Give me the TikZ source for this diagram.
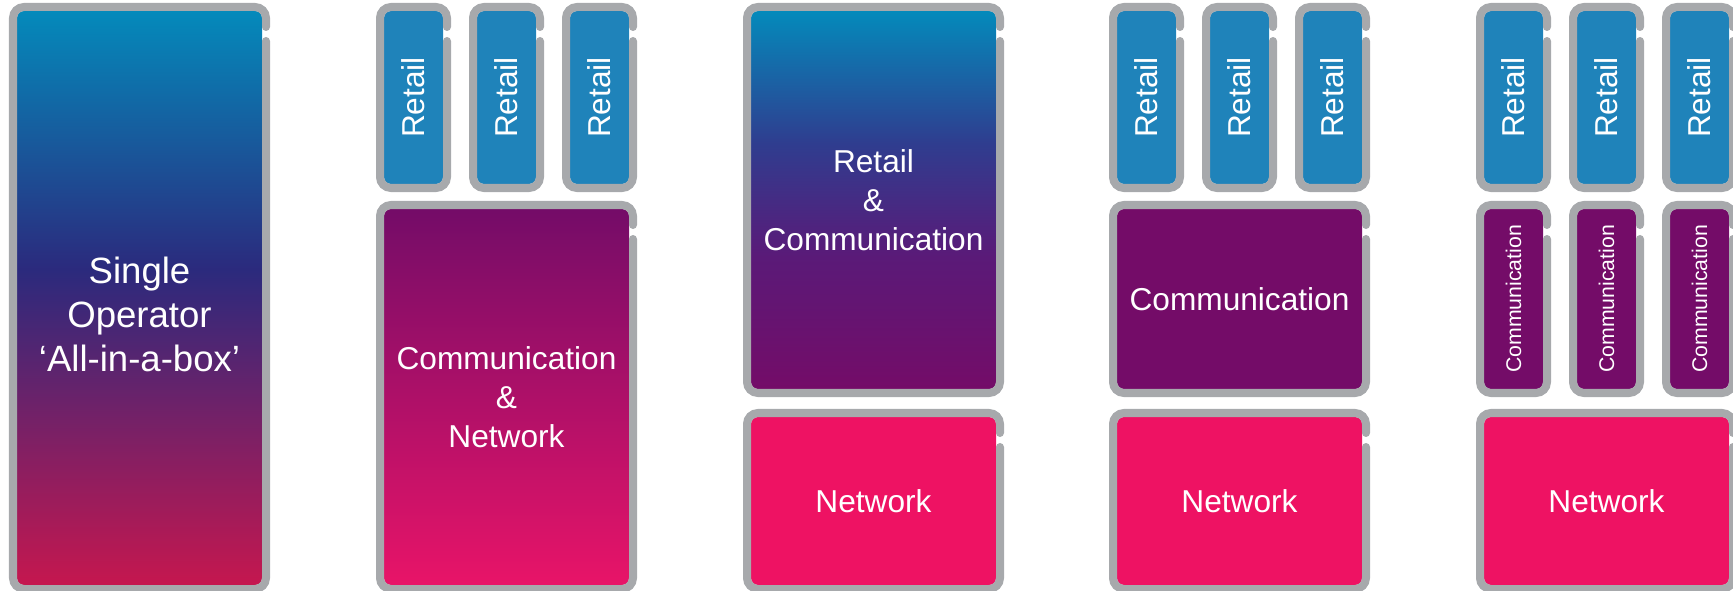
\documentclass[tikz,border=0pt]{standalone}
\usepackage{fontspec}
\setmainfont{Liberation Sans}
\usetikzlibrary{calc}

\definecolor{rimgray}{HTML}{A7A9AC}
\definecolor{retailblue}{HTML}{1F83BA}
\definecolor{commpurple}{HTML}{740C68}
\definecolor{netpink}{HTML}{EE1263}
\definecolor{topteal}{HTML}{048ABB}
\definecolor{midindigo}{HTML}{2B2A7D}
\definecolor{lowcrimson}{HTML}{C5174F}
\definecolor{lowpink}{HTML}{E81468}
\definecolor{rcindigo}{HTML}{2F3D8F}
\definecolor{rcviolet}{HTML}{5A1A78}

% gradients, visible part runs from 25bp (bottom) to 75bp (top)
\pgfdeclareverticalshading{allinone}{100bp}{color(0bp)=(lowcrimson); color(25bp)=(lowcrimson); color(52.5bp)=(midindigo); color(75bp)=(topteal); color(100bp)=(topteal)}
\pgfdeclareverticalshading{commnet}{100bp}{color(0bp)=(lowpink); color(25bp)=(lowpink); color(75bp)=(commpurple); color(100bp)=(commpurple)}
\pgfdeclareverticalshading{retailcomm}{100bp}{color(0bp)=(commpurple); color(25bp)=(commpurple); color(42.5bp)=(rcviolet); color(57.5bp)=(rcindigo); color(75bp)=(topteal); color(100bp)=(topteal)}

\tikzset{ box/.style = { rectangle % filled part
        , rounded corners = 0.07cm
        , inner sep = 0pt
        , outer sep = 0pt
        , text = white
        , align = center
        , font = \fontsize{9}{11.1}\selectfont
        }
        , retail/.style = { box, fill = retailblue }
        , comm/.style = { box, fill = commpurple }
        , commsmall/.style = { box, fill = commpurple, font = \fontsize{6.05}{7}\selectfont }
        , network/.style = { box, fill = netpink }
        , single/.style = { box, shade, shading = allinone }
        , commnet/.style = { box, shade, shading = commnet }
        , retailcomm/.style = { box, shade, shading = retailcomm }
        , rim/.style = { draw = rimgray % grey frame with the gap on the right
        , line width = 0.08cm
        , rounded corners = 0.11cm
        , line cap = round
        }
        }

% name, left, top, width, height (outer, in px), style, text
\newcommand{\opcell}[7]{%
  \node [#6, minimum width={(#4-16)*0.01cm}, minimum height={(#5-16)*0.01cm}] (#1) at ({#2+#4/2},{#3+#5/2}) {#7};
  \draw [rim] ($(#1.north east)+(4,30)$) -- ($(#1.south east)+(4,4)$) -- ($(#1.south west)+(-4,4)$)
    -- ($(#1.north west)+(-4,-4)$) -- ($(#1.north east)+(4,-4)$) -- ($(#1.north east)+(4,16)$);
}

\begin{document}
\begin{tikzpicture}[x=0.01cm, y=-0.01cm]
        \useasboundingbox (0,0) rectangle (1733,591);

        % single operator
        \opcell{a}{9}{3}{261}{590}{single}{}
        \node [box, font=\fontsize{10.4}{12.5}\selectfont] (atext) at ($(a.center)+(0,16)$) {Single\\Operator\\‘All-in-a-box’};

        % retail on top, three per column
        \foreach \col/\cx in {b/376, d/1109, e/1476} {
            \foreach \i in {0,1,2} {
                \opcell{\col r\i}{\cx+93*\i}{3}{75}{189}{retail}{\rotatebox{90}{Retail}}
            }
        }

        \opcell{bc}{376}{201}{261}{392}{commnet}{Communication\\\&\\Network}

        \opcell{cr}{743}{3}{261}{394}{retailcomm}{Retail\\\&\\Communication}
        \opcell{cn}{743}{409}{261}{184}{network}{Network}

        \opcell{dc}{1109}{201}{261}{196}{comm}{Communication}
        \opcell{dn}{1109}{409}{261}{184}{network}{Network}

        \foreach \i in {0,1,2} {
            \opcell{ec\i}{1476+93*\i}{201}{75}{196}{commsmall}{\rotatebox{90}{Communication}}
        }
        \opcell{en}{1476}{409}{261}{184}{network}{Network}
\end{tikzpicture}
\end{document}
